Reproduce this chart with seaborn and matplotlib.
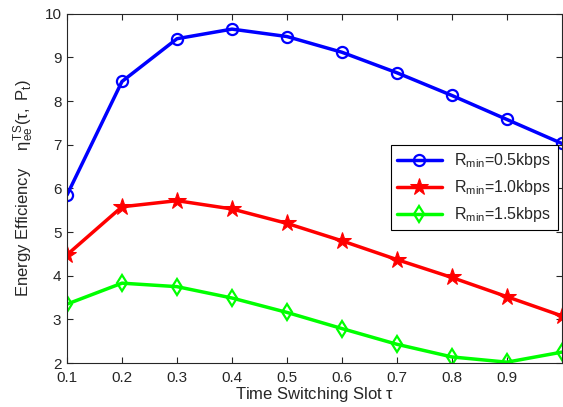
import matplotlib
matplotlib.use("Agg")
import matplotlib.pyplot as plt
import seaborn as sns
import pandas as pd

# time switching slot values
tau = [0.1, 0.2, 0.3, 0.4, 0.5, 0.6, 0.7, 0.8, 0.9, 1.0]

# energy efficiency for each minimum rate
ee_05 = [5.85, 8.45, 9.43, 9.65, 9.48, 9.12, 8.65, 8.13, 7.58, 7.03]
ee_10 = [4.48, 5.58, 5.72, 5.53, 5.20, 4.80, 4.37, 3.96, 3.52, 3.08]
ee_15 = [3.35, 3.83, 3.75, 3.49, 3.16, 2.79, 2.43, 2.14, 2.02, 2.25]

labels = [r"R$_{\mathregular{min}}$=0.5kbps",
          r"R$_{\mathregular{min}}$=1.0kbps",
          r"R$_{\mathregular{min}}$=1.5kbps"]
x_ticks = [0.1, 0.2, 0.3, 0.4, 0.5, 0.6, 0.7, 0.8, 0.9]
y_ticks = [2, 3, 4, 5, 6, 7, 8, 9, 10]

sns.set_style("ticks")
plt.rcParams["font.family"] = ["Liberation Sans", "DejaVu Sans"]
plt.rcParams["mathtext.fontset"] = "custom"
plt.rcParams["mathtext.rm"] = "Liberation Sans"
plt.rcParams["mathtext.it"] = "Liberation Sans"

fig = plt.figure(figsize=(5.63, 4.07), dpi=100)
ax = fig.add_axes([0.119, 0.108, 0.879, 0.858])

styles = [
    dict(color="#0000ff", marker="o", markersize=8, markerfacecolor="none",
         markeredgecolor="#0000ff", markeredgewidth=1.6),
    dict(color="#ff0000", marker="*", markersize=13, markerfacecolor="#ff0000",
         markeredgecolor="#ff0000"),
    dict(color="#00ff00", marker="d", markersize=8, markerfacecolor="none",
         markeredgecolor="#00ff00", markeredgewidth=1.6),
]

for ys, lab, st in zip([ee_05, ee_10, ee_15], labels, styles):
    df = pd.DataFrame({"tau": tau, "ee": ys})
    sns.lineplot(data=df, x="tau", y="ee", ax=ax, label=lab, linewidth=2.5, **st)

ax.set_xlim(0.1, 1.0)
ax.set_ylim(2, 10)
ax.set_xticks(x_ticks)
ax.set_xticklabels([f"{v:.1f}" for v in x_ticks])
ax.set_yticks(y_ticks)
ax.tick_params(direction="in", top=True, right=True, labelsize=11, length=4,
               width=0.8)
ax.tick_params(axis="x", pad=6)
ax.tick_params(axis="y", pad=4)
for s in ax.spines.values():
    s.set_linewidth(0.8)
    s.set_visible(True)

ax.set_xlabel(r"Time Switching Slot $\tau$", fontsize=12, labelpad=0)
ax.set_ylabel(r"Energy Efficiency    $\eta_{ee}^{TS}(\tau,\ P_t)$", fontsize=12, labelpad=6)

leg = ax.legend(loc="upper right", bbox_to_anchor=(1.008, 0.648), fontsize=11.5,
                frameon=True, fancybox=False, edgecolor="black", framealpha=1,
                handlelength=2.8, borderpad=0.4, labelspacing=0.5)
leg.get_frame().set_linewidth(0.8)

fig.savefig("out.png", dpi=100)
